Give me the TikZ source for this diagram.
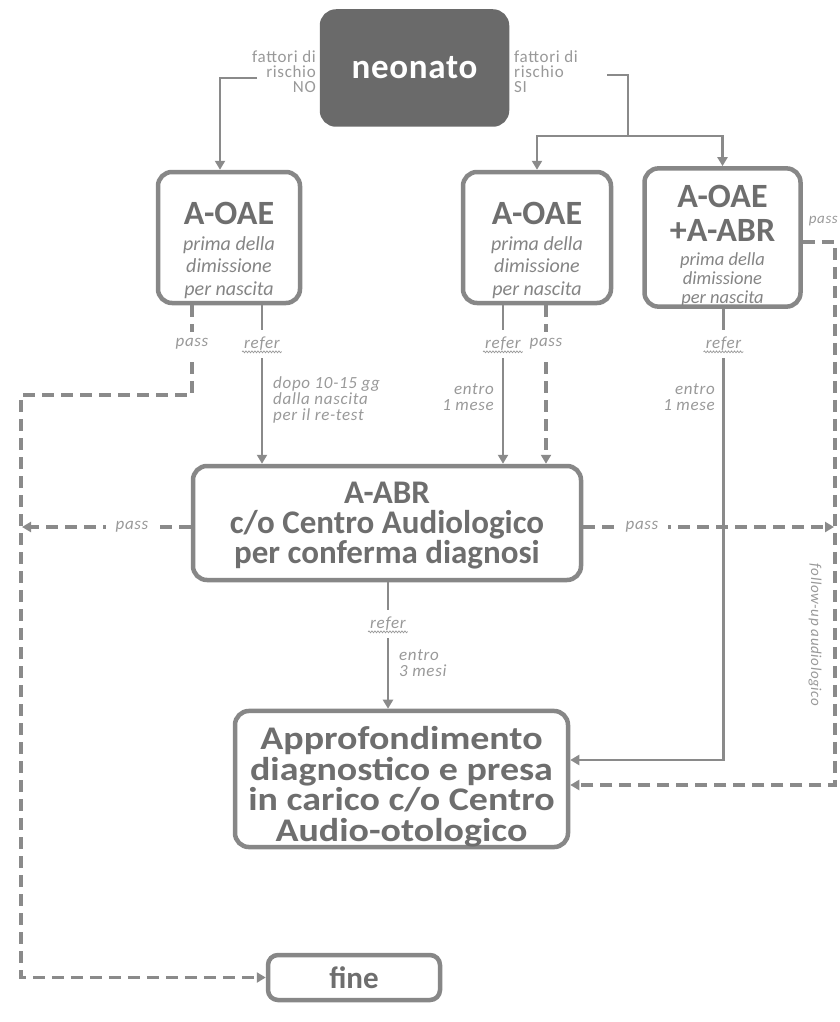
\documentclass[tikz,border=0pt]{standalone}
\usepackage{fontspec}
\setmainfont{Carlito}
\newfontfamily\labfont[LetterSpace=4]{Carlito}
\newfontfamily\trackfont[LetterSpace=2]{Carlito}
\newfontfamily\widefont[FakeStretch=1.15]{Carlito}
\usetikzlibrary{arrows.meta,decorations.pathmorphing}
\definecolor{boxgray}{HTML}{878787}
\definecolor{txtgray}{HTML}{6E6E6E}
\definecolor{subgray}{HTML}{858585}
\definecolor{lblgray}{HTML}{999999}
\definecolor{linegray}{HTML}{8A8A8A}
\definecolor{darkfill}{HTML}{6A6A6A}
\newcommand{\oaehead}[2]{{\rule{0pt}{#1}\color{txtgray}\normalfont\bfseries\fontsize{34}{34}\selectfont #2}}
\begin{document}
\begin{tikzpicture}[x=1pt,y=-1pt,
  box/.style={draw=boxgray, line width=4.5pt, rounded corners=14pt, fill=white, align=center, text=txtgray, inner sep=0pt},
  oae/.style={box, font=\itshape\fontsize{20}{22.5}\selectfont, text=subgray, minimum height=131pt},
  plain/.style={draw=linegray, line width=2.8pt},
  dplain/.style={plain, line width=3.2pt, dash pattern=on 12pt off 7pt},
  conn/.style={plain, -{Triangle[width=10pt,length=9pt]}},
  dconn/.style={dplain, -{Triangle[width=10pt,length=9pt]}},
  lab/.style={font=\labfont\fontsize{17}{15}\selectfont, text=lblgray, inner sep=1pt},
  ilab/.style={font=\labfont\itshape\fontsize{17}{16}\selectfont, text=lblgray, inner sep=1pt},
  vlab/.style={ilab, fill=white, inner xsep=2pt, inner ysep=7pt},
  hlab/.style={ilab, fill=white, inner xsep=10pt, inner ysep=3pt},
  squig/.style={draw=lblgray, line width=0.7pt, decorate, decoration={snake, amplitude=0.9pt, segment length=3pt}}
]
\useasboundingbox (0,0) rectangle (840,1022);

% nodes
\node[box, fill=darkfill, draw=darkfill, minimum width=185pt, minimum height=113pt, text=white,
      font=\trackfont\bfseries\fontsize{35}{35}\selectfont] (neo) at (414.5,68) {neonato};
\node[lab, anchor=east, align=right] (lno) at (317,72) {fattori di\\rischio\\NO};
\node[lab, anchor=west, align=left] (lsi) at (513,72) {fattori di\\rischio\\SI};

\node[oae, minimum width=142pt] (b1) at (229,237.5)
  {\oaehead{48pt}{A-OAE}\\[3.5pt]prima della\\dimissione\\per nascita};
\node[oae, minimum width=148pt] (b2) at (537,237.5)
  {\oaehead{48pt}{A-OAE}\\[3.5pt]prima della\\dimissione\\per nascita};
\node[oae, minimum width=156pt, font=\itshape\fontsize{18.5}{19}\selectfont] (b3) at (722.5,237.5)
  {\oaehead{39pt}{A-OAE}\\[11pt]\oaehead{0pt}{+A-ABR}\\[5pt]prima della\\dimissione\\per nascita};

\node[box, font=\bfseries\fontsize{33}{30}\selectfont, minimum width=388pt, minimum height=114pt] (abr) at (387,523)
  {\rule{0pt}{27pt}A-ABR\\c/o Centro Audiologico\\per conferma diagnosi};
\node[box, font=\widefont\bfseries\fontsize{33}{30.5}\selectfont, minimum width=333pt, minimum height=132pt] (appr) at (401.5,779)
  {\rule{0pt}{39pt}Approfondimento\\diagnostico e presa\\in carico c/o Centro\\Audio-otologico};
\node[box, rounded corners=10pt, font=\bfseries\fontsize{31}{31}\selectfont, minimum width=172pt, minimum height=45pt] (fine) at (354,977.5) {fine};

% helper coordinates
\coordinate (noS) at (257,78);
\coordinate (siS) at (607,75);
\coordinate (siJ) at (628,136);
\coordinate (lc) at (21,395);
\coordinate (rc) at (835,242);
\coordinate (b1p) at ([xshift=-37pt]b1.south);
\coordinate (b1r) at ([xshift=33pt]b1.south);
\coordinate (b2r) at ([xshift=-34pt]b2.south);
\coordinate (b2p) at ([xshift=9pt]b2.south);
\coordinate (b3r) at ([xshift=1pt]b3.south);
\coordinate (b3p) at ([yshift=-4.5pt]b3.east);
\coordinate (abrW) at ([yshift=-4pt]abr.west);
\coordinate (abrE) at ([yshift=-4pt]abr.east);
\coordinate (abrS) at ([xshift=1pt]abr.south);
\coordinate (ae1) at ([yshift=19pt]appr.east);
\coordinate (ae2) at ([yshift=-6pt]appr.east);

% connectors
\draw[conn] (noS) -| ([xshift=-9pt]b1.north);
\draw[plain] (siS) -| (siJ);
\draw[conn] (siJ) -| (b2.north);
\draw[conn] (siJ) -| (b3.north);

\draw[dconn] (b1p) |- (lc) |- (fine.west);
\draw[conn] (b1r) -- (b1r |- abr.north);
\draw[conn] (b2r) -- (b2r |- abr.north);
\draw[dconn] (b2p) -- (b2p |- abr.north);
\draw[conn] (b3r) |- (ae1);
\draw[dconn] (b3p) -- (rc) |- (ae2);
\draw[dconn, shorten >=1pt] (abrW) -- (abrW -| lc);
\draw[dconn, shorten >=1pt] (abrE) -- (abrE -| rc);
\draw[conn] (abrS) -- (abrS |- appr.north);

% labels on connectors
\node[vlab] (p1) at (b1p |- 0,344) {pass};
\node[vlab] (r1) at (b1r |- 0,344) {refer};
\node[vlab] (r2) at (b2r |- 0,344) {refer};
\node[vlab] (p2) at (b2p |- 0,344) {pass};
\node[vlab] (r3) at (b3r |- 0,344) {refer};
\node[ilab, anchor=east, font=\labfont\itshape\fontsize{15}{15}\selectfont] (p3) at (839,221) {pass};
\node[hlab] (pl) at (132,527) {pass};
\node[hlab] (pr) at (642,527) {pass};
\node[vlab] (r4) at (abrS |- 0,624) {refer};
\foreach \r in {r1,r2,r3,r4}{
  \draw[squig] ([yshift=-3pt]\r.base west) -- ([yshift=-3pt]\r.base east);
}
\node[ilab, anchor=west, align=left] (d1) at (272,400) {dopo 10-15 gg\\dalla nascita\\per il re-test};
\node[ilab, anchor=east, align=right] (e1) at (495,397) {entro\\1 mese};
\node[ilab, anchor=east, align=right] (e2) at (716,397) {entro\\1 mese};
\node[ilab, anchor=west, align=left] (e3) at (398,663) {entro\\3 mesi};
\node[ilab, rotate=-90, font=\labfont\itshape\fontsize{15}{15}\selectfont] (fu) at (815,635) {follow-up audiologico};
\end{tikzpicture}
\end{document}
